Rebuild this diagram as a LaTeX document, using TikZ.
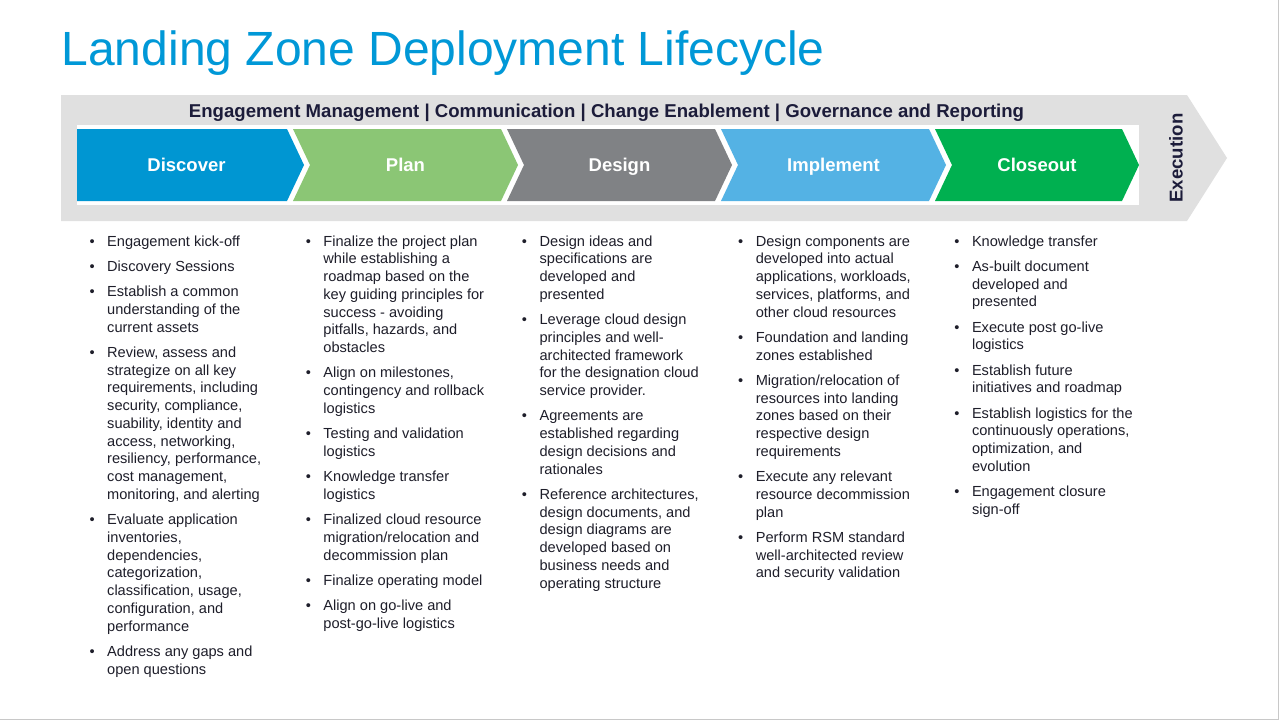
\documentclass[tikz,border=0pt]{standalone}
\usepackage{fontspec}
\setmainfont{Liberation Sans}
\usepackage{enumitem}
\usetikzlibrary{positioning}
\definecolor{lzTitle}  {RGB}{  0,152,215}
\definecolor{lzNavy}   {RGB}{ 28, 28, 58}
\definecolor{lzInk}    {RGB}{ 30, 30, 42}
\definecolor{lzBand}   {RGB}{224,224,224}
\definecolor{lzEdge}   {RGB}{200,200,200}
\definecolor{lzDisc}   {RGB}{  0,150,210}
\definecolor{lzPlan}   {RGB}{139,198,117}
\definecolor{lzDesign} {RGB}{128,130,133}
\definecolor{lzImpl}   {RGB}{ 84,178,228}
\definecolor{lzClose}  {RGB}{  0,176, 80}
\setlist[itemize]{label={•},leftmargin=17.6pt,labelsep=12.5pt,labelwidth=5.1pt,
  topsep=0pt,partopsep=0pt,parsep=0pt,itemsep=7.5pt}
\newcommand\lzcol[1]{\begin{minipage}[t]{190pt}\raggedright
  \begin{itemize}#1\end{itemize}\end{minipage}}

\begin{document}
\begin{tikzpicture}[x=1pt,y=-1pt,
  phase/.style={text=white,inner sep=0pt,anchor=base,
                font=\fontsize{18.5}{22}\selectfont\bfseries},
  headline/.style={text=lzNavy,inner sep=0pt,
                   font=\fontsize{18.6}{22}\selectfont\bfseries},
  col/.style={anchor=base west,inner sep=0pt,text=lzInk,
              font=\fontsize{14.6}{17.75}\selectfont}
]
\useasboundingbox[fill=white] (0,0) rectangle (1280,720);

\node[anchor=base west,inner sep=0pt,text=lzTitle,
      font=\fontsize{48}{57}\selectfont] (title) at (61.4,65)
  {Landing Zone Deployment Lifecycle};

\fill[lzBand] (61,95) -- (1187,95) -- (1227,158) -- (1187,221) -- (61,221) -- cycle;
\fill[white] (77,125) rectangle (1139,205);

\node[headline,anchor=base] (mgmt) at (606.5,117.5)
  {Engagement Management | Communication | Change Enablement | Governance and Reporting};
\node[headline,rotate=90] (exec) at (1176,158) {Execution};

\foreach \nm/\lbl/\fc/\xl/\nd/\xr/\xc in {
    disc/Discover/lzDisc/77/0/287/186.5,
    plan/Plan/lzPlan/293/17/501/405.5,
    dsgn/Design/lzDesign/507/17/715/619.5,
    impl/Implement/lzImpl/721/17/929/833.5,
    clos/Closeout/lzClose/935/17/1122/1037}
{
  \fill[\fc] (\xl,129) -- (\xr,129) -- (\xr+17,165) -- (\xr,201)
    -- (\xl,201) -- (\xl+\nd,165) -- cycle;
  \node[phase] (\nm) at (\xc,171.5) {\lbl};
}

\node[col] (discTxt) at (89.4,246) {\lzcol{%
  \item Engagement kick-off
  \item Discovery Sessions
  \item Establish a common\\understanding of the\\current assets
  \item Review, assess and\\strategize on all key\\requirements, including\\security, compliance,\\suability, identity and\\access, networking,\\resiliency, performance,\\cost management,\\monitoring, and alerting
  \item Evaluate application\\inventories,\\dependencies,\\categorization,\\classification, usage,\\configuration, and\\performance
  \item Address any gaps and\\open questions}};

\node[col] (planTxt) at (305.6,246) {\lzcol{%
  \item Finalize the project plan\\while establishing a\\roadmap based on the\\key guiding principles for\\success - avoiding\\pitfalls, hazards, and\\obstacles
  \item Align on milestones,\\contingency and rollback\\logistics
  \item Testing and validation\\logistics
  \item Knowledge transfer\\logistics
  \item Finalized cloud resource\\migration/relocation and\\decommission plan
  \item Finalize operating model
  \item Align on go-live and\\post-go-live logistics}};

\node[col] (dsgnTxt) at (521.8,246) {\lzcol{%
  \item Design ideas and\\specifications are\\developed and\\presented
  \item Leverage cloud design\\principles and well-\\architected framework\\for the designation cloud\\service provider.
  \item Agreements are\\established regarding\\design decisions and\\rationales
  \item Reference architectures,\\design documents, and\\design diagrams are\\developed based on\\business needs and\\operating structure}};

\node[col] (implTxt) at (738.0,246) {\lzcol{%
  \item Design components are\\developed into actual\\applications, workloads,\\services, platforms, and\\other cloud resources
  \item Foundation and landing\\zones established
  \item Migration/relocation of\\resources into landing\\zones based on their\\respective design\\requirements
  \item Execute any relevant\\resource decommission\\plan
  \item Perform RSM standard\\well-architected review\\and security validation}};

\node[col] (closTxt) at (954.2,246) {\lzcol{%
  \item Knowledge transfer
  \item As-built document\\developed and\\presented
  \item Execute post go-live\\logistics
  \item Establish future\\initiatives and roadmap
  \item Establish logistics for the\\continuously operations,\\optimization, and\\evolution
  \item Engagement closure\\sign-off}};

\draw[lzEdge,line width=1.2pt] (1278.6,0) -- (1278.6,719.2) -- (0,719.2);
\end{tikzpicture}
\end{document}
